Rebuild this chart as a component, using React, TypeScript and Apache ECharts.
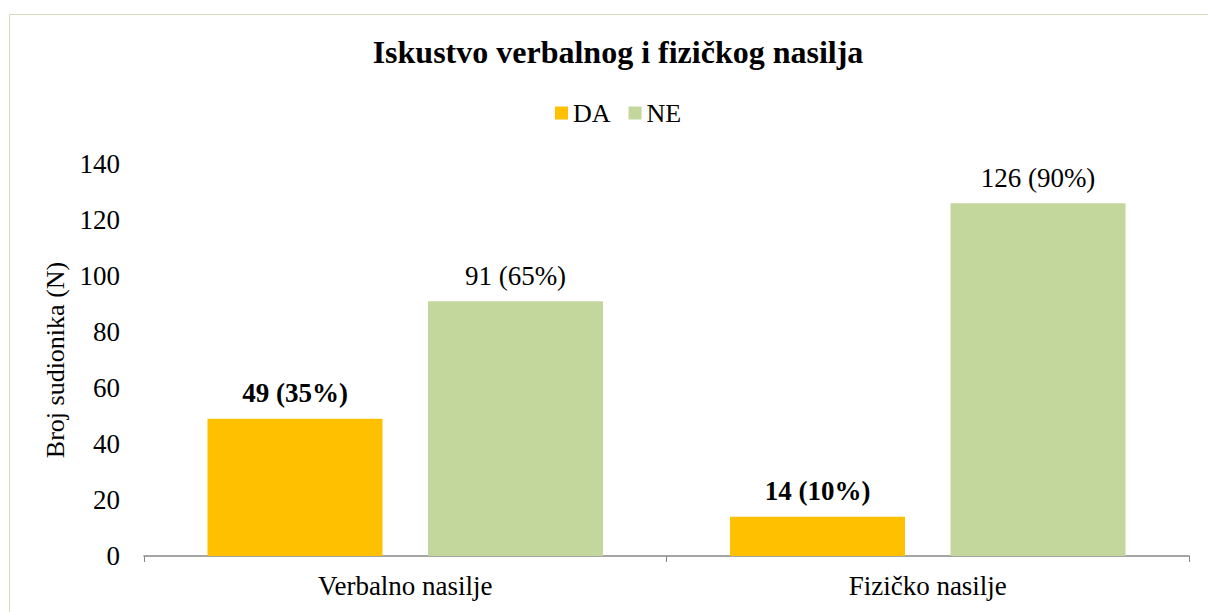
import React, { useEffect, useRef } from "react";
import * as echarts from "echarts";

const categories = ["Verbalno nasilje", "Fizičko nasilje"];
const daValues = [49, 14];
const neValues = [91, 126];
const daPercents = [35, 10];
const nePercents = [65, 90];
const yTicks = { min: 0, max: 140, interval: 20 };

const FONT = "'Liberation Serif', 'Times New Roman', serif";

export default function App() {
  const ref = useRef<HTMLDivElement>(null);
  useEffect(() => {
    if (!ref.current) return;
    const chart = echarts.init(ref.current, undefined, { renderer: "svg" });
    chart.setOption({
      animation: false,
      backgroundColor: "#fff",
      textStyle: { fontFamily: FONT, color: "#000" },
      title: {
        text: "Iskustvo verbalnog i fizičkog nasilja",
        left: 613,
        textAlign: "center",
        top: 31,
        textStyle: { fontFamily: FONT, fontSize: 32, fontWeight: "bold", color: "#000" },
      },
      legend: {
        top: 95,
        left: 550,
        itemWidth: 13,
        itemHeight: 13,
        itemGap: 18,
        icon: "rect",
        textStyle: { fontFamily: FONT, fontSize: 26, color: "#000", padding: [0, 0, 0, 0] },
        data: ["DA", "NE"],
      },
      graphic: [
        {
          type: "rect",
          shape: { x: 9.5, y: 14.5, width: 1250, height: 700 },
          style: { fill: "none", stroke: "#D6DBBF", lineWidth: 1 },
          silent: true,
        },
      ],
      grid: { left: 144, right: 19, top: 164, bottom: 56, containLabel: false },
      xAxis: {
        type: "category",
        data: categories,
        axisLine: { lineStyle: { color: "#868686", width: 1.5 } },
        axisTick: { show: true, alignWithLabel: false, length: 6, lineStyle: { color: "#868686" } },
        axisLabel: { fontFamily: FONT, fontSize: 27, color: "#000", margin: 16 },
      },
      yAxis: {
        type: "value",
        min: yTicks.min,
        max: yTicks.max,
        interval: yTicks.interval,
        name: "Broj sudionika (N)",
        nameLocation: "middle",
        nameGap: 71,
        nameTextStyle: { fontFamily: FONT, fontSize: 26, color: "#000" },
        axisLine: { show: false },
        axisTick: { show: false },
        splitLine: { show: false },
        axisLabel: { fontFamily: FONT, fontSize: 27, color: "#000", margin: 24 },
      },
      series: [
        {
          name: "DA",
          type: "bar",
          data: daValues,
          barWidth: 175,
          barGap: "26%",
          itemStyle: { color: "#FFC000" },
          label: {
            show: true,
            position: "top",
            distance: 12,
            fontFamily: FONT,
            fontSize: 27,
            fontWeight: "bold",
            color: "#000",
            formatter: (p: any) => `${daValues[p.dataIndex]} (${daPercents[p.dataIndex]}%)`,
          },
        },
        {
          name: "NE",
          type: "bar",
          data: neValues,
          barWidth: 175,
          barGap: "26%",
          itemStyle: { color: "#C3D69B" },
          label: {
            show: true,
            position: "top",
            distance: 12,
            fontFamily: FONT,
            fontSize: 27,
            color: "#000",
            formatter: (p: any) => `${neValues[p.dataIndex]} (${nePercents[p.dataIndex]}%)`,
          },
        },
      ],
    });
    return () => chart.dispose();
  }, []);
  return (
    <div
      ref={ref}
      style={{ position: "fixed", left: 0, top: 0, width: 1208, height: 612 }}
    />
  );
}
